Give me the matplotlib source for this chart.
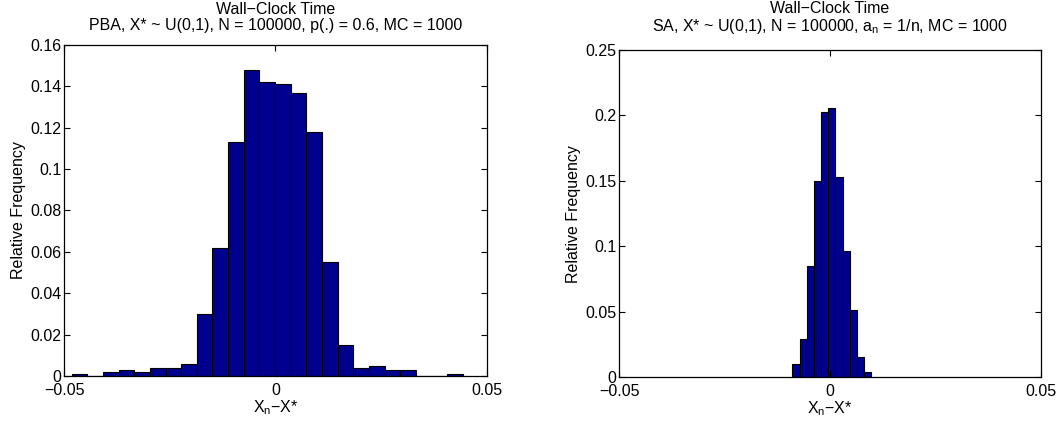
import numpy as np
import matplotlib
matplotlib.use("Agg")
import matplotlib.pyplot as plt

plt.rcParams['font.family'] = ['Liberation Sans', 'DejaVu Sans']
plt.rcParams['mathtext.fontset'] = 'custom'
plt.rcParams['mathtext.rm'] = 'Liberation Sans'
plt.rcParams['mathtext.it'] = 'Liberation Sans'
plt.rcParams['font.size'] = 11.5

# relative frequency of X_n - X* per bin
pba_freq = [0.001, 0.000, 0.002, 0.003, 0.002, 0.004, 0.004, 0.006, 0.030,
            0.062, 0.113, 0.148, 0.142, 0.141, 0.137, 0.118, 0.055, 0.015,
            0.004, 0.005, 0.003, 0.003, 0.000, 0.000, 0.001]
pba_start, pba_width = -0.0482, 0.0037

sa_freq = [0.010, 0.029, 0.085, 0.150, 0.203, 0.206, 0.153, 0.096, 0.051,
           0.015, 0.004]
sa_start, sa_width = -0.0089, 0.0017

pba_title = "Wall\u2212Clock Time\nPBA, X* ~ U(0,1), N = 100000, p(.) = 0.6, MC = 1000"
sa_title = "Wall\u2212Clock Time\nSA, X* ~ U(0,1), N = 100000, $\\mathregular{a_n}$ = 1/n, MC = 1000"
xlab = "$\\mathregular{X_n}$\u2212X*"

bar_color = '#00008f'
fs = 11.5

fig = plt.figure(figsize=(10.6, 4.24), dpi=100)
ax1 = fig.add_axes([0.0604, 0.1132, 0.399, 0.7807])
ax2 = fig.add_axes([0.584, 0.1108, 0.398, 0.771])


def draw_hist(ax, freq, start, width, ymax, yticks, yticklabels, title, tpad):
    left = start + width * np.arange(len(freq))
    ax.bar(left, freq, width=width, align='edge', color=bar_color,
           edgecolor='black', linewidth=0.8)
    ax.set_xlim(-0.05, 0.05)
    ax.set_ylim(0, ymax)
    ax.set_xticks([-0.05, 0, 0.05])
    ax.set_xticklabels(['\u22120.05', '0', '0.05'])
    ax.set_yticks(yticks)
    ax.set_yticklabels(yticklabels)
    ax.tick_params(direction='in', top=True, right=True, length=4,
                   width=0.8, labelsize=fs)
    ax.tick_params(axis='x', pad=5)
    ax.tick_params(axis='y', pad=2)
    for s in ax.spines.values():
        s.set_linewidth(0.9)
    ax.set_xlabel(xlab, fontsize=fs, labelpad=0)
    ax.set_ylabel('Relative Frequency', fontsize=fs, labelpad=3)
    ax.set_title(title, fontsize=fs, linespacing=1.05, pad=tpad)


draw_hist(ax1, pba_freq, pba_start, pba_width, 0.16,
          np.arange(0, 0.161, 0.02),
          ['0', '0.02', '0.04', '0.06', '0.08', '0.1', '0.12', '0.14', '0.16'],
          pba_title, 11)
draw_hist(ax2, sa_freq, sa_start, sa_width, 0.25,
          np.arange(0, 0.251, 0.05),
          ['0', '0.05', '0.1', '0.15', '0.2', '0.25'],
          sa_title, 14)

fig.savefig('out.png', dpi=100)
